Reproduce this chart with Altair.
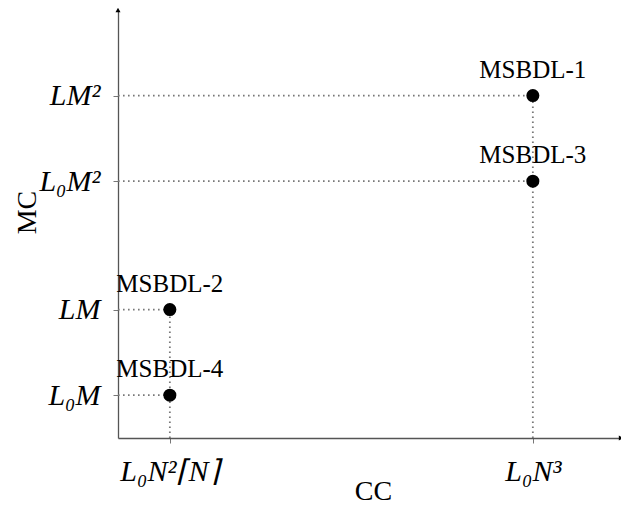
import altair as alt
import pandas as pd

# Data
names = ["MSBDL-1", "MSBDL-3", "MSBDL-2", "MSBDL-4"]
cc = [8, 8, 1, 1]
mc = [8, 6, 3, 1]

x_ticks = [1, 8]
x_labels = ["L₀N²⌈N⌉", "L₀N³"]
y_ticks = [1, 3, 6, 8]
y_labels = ["L₀M", "LM", "L₀M²", "LM²"]

x_max = 9.7
y_max = 10

pts = pd.DataFrame({"name": names, "cc": cc, "mc": mc, "zero": [0] * len(names)})
# vertical guide lines: for each distinct x take the highest point
vert = pts.groupby("cc", as_index=False)["mc"].max()
vert["zero"] = 0


def label_expr(vals, labs):
    parts = " : ".join(f"datum.value == {v} ? '{l}'" for v, l in zip(vals, labs))
    return parts + " : ''"


SERIF = "Liberation Serif"

xscale = alt.Scale(domain=[0, x_max], nice=False, zero=False)
yscale = alt.Scale(domain=[0, y_max], nice=False, zero=False)

x_axis = alt.Axis(
    values=x_ticks,
    labelExpr=label_expr(x_ticks, x_labels),
    grid=False,
    domainColor="#555555",
    domainWidth=1.3,
    tickColor="#777777",
    tickSize=5,
    labelFont=SERIF,
    labelFontStyle="italic",
    labelFontSize=30,
    labelColor="black",
    labelBaseline="alphabetic",
    labelPadding=37,
    title="CC",
    titleFont=SERIF,
    titleFontWeight="normal",
    titleFontSize=28,
    titleColor="black",
    titleBaseline="alphabetic",
    titleX=255,
    titleY=61,
)
y_axis = alt.Axis(
    values=y_ticks,
    labelExpr=label_expr(y_ticks, y_labels),
    grid=False,
    domainColor="#555555",
    domainWidth=1.3,
    tickColor="#777777",
    tickSize=5,
    labelFont=SERIF,
    labelFontStyle="italic",
    labelFontSize=30,
    labelColor="black",
    labelBaseline="middle",
    labelPadding=13,
    title="MC",
    titleFont=SERIF,
    titleFontWeight="normal",
    titleFontSize=28,
    titleColor="black",
    titleAngle=270,
    titleBaseline="alphabetic",
    titleX=-83,
    titleY=202,
)

dot = dict(color="#777777", strokeDash=[1.6, 3.4], strokeWidth=1.8)

hlines = alt.Chart(pts).mark_rule(**dot).encode(
    x=alt.X("zero:Q", scale=xscale, axis=x_axis),
    x2="cc:Q",
    y=alt.Y("mc:Q", scale=yscale, axis=y_axis),
)
vlines = alt.Chart(vert).mark_rule(**dot).encode(
    x=alt.X("cc:Q", scale=xscale),
    y=alt.Y("zero:Q", scale=yscale),
    y2="mc:Q",
)
points = alt.Chart(pts).mark_point(filled=True, color="black", opacity=1, size=170).encode(
    x=alt.X("cc:Q", scale=xscale),
    y=alt.Y("mc:Q", scale=yscale),
)
labels = alt.Chart(pts).mark_text(
    font=SERIF, fontSize=25, baseline="alphabetic", align="center", dy=-18, color="black"
).encode(
    x=alt.X("cc:Q", scale=xscale),
    y=alt.Y("mc:Q", scale=yscale),
    text="name:N",
)

arrows_df = pd.DataFrame({"x": [0, x_max], "y": [y_max, 0], "shape": ["triangle-up", "triangle-right"]})
arrows = alt.Chart(arrows_df).mark_point(filled=True, color="black", opacity=1, size=25).encode(
    x=alt.X("x:Q", scale=xscale),
    y=alt.Y("y:Q", scale=yscale),
    shape=alt.Shape("shape:N", scale=None),
)

chart = (
    alt.layer(hlines, vlines, points, labels, arrows)
    .properties(
        width=503,
        height=428,
        autosize=alt.AutoSizeParams(type="none"),
        padding={"left": 110, "top": 2, "right": 0, "bottom": 68},
    )
    .configure_view(stroke=None)
)

chart.save("out.html", embed_options={"renderer": "svg", "actions": False})
